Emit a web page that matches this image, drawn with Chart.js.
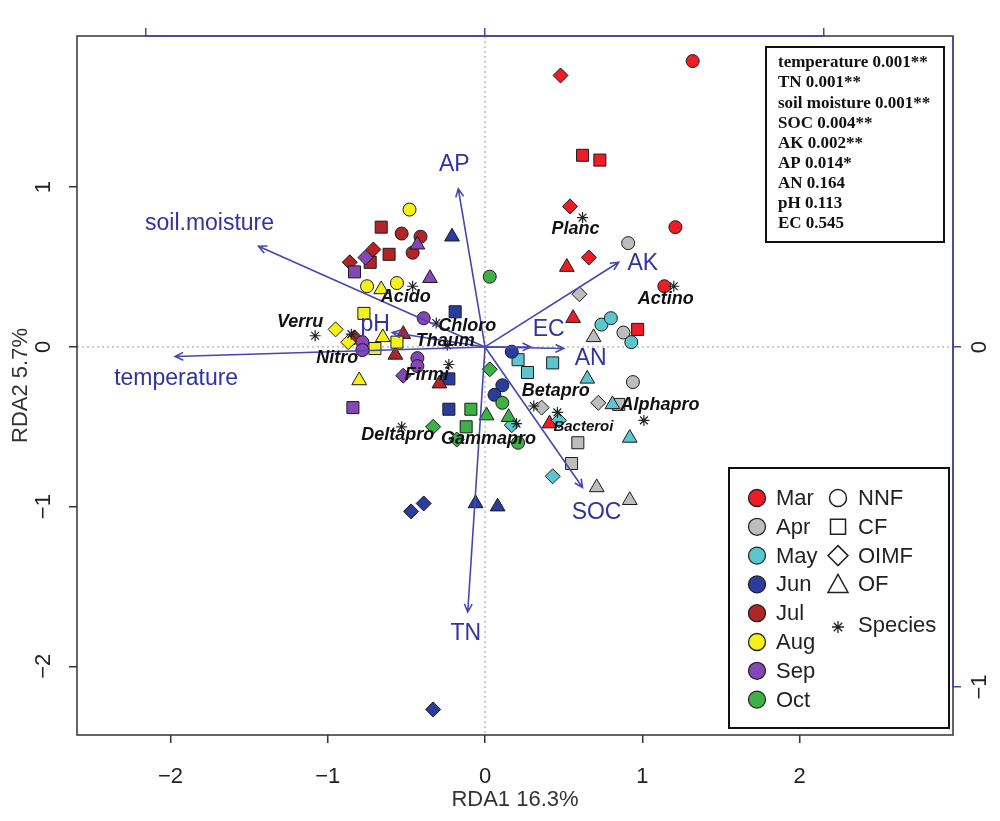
<!DOCTYPE html>
<html lang="en">
<head>
<meta charset="UTF-8">
<title>RDA biplot</title>
<script src="https://cdn.jsdelivr.net/npm/chart.js"></script>
<style>
  html, body { margin: 0; padding: 0; background: #fff; }
  canvas { display: block; }
</style>
</head>
<body>
<canvas id="rda" width="1000" height="821"></canvas>
<script>
// site scores [RDA1, RDA2, shape]  c = NNF, s = CF, d = OIMF, t = OF
const mar = [[1.32,1.79,'c'],[0.48,1.70,'d'],[0.62,1.20,'s'],[0.73,1.17,'s'],[0.54,0.88,'d'],[1.21,0.75,'c'],
             [0.66,0.56,'d'],[0.52,0.50,'t'],[1.14,0.38,'c'],[0.56,0.18,'t'],[0.97,0.11,'s'],[0.41,-0.48,'t']];
const apr = [[0.91,0.65,'c'],[0.60,0.33,'d'],[0.88,0.09,'c'],[0.69,0.06,'t'],[0.94,-0.22,'c'],[0.72,-0.35,'d'],
             [0.85,-0.36,'s'],[0.36,-0.38,'d'],[0.59,-0.60,'s'],[0.55,-0.73,'s'],[0.71,-0.88,'t'],[0.92,-0.96,'t']];
const may = [[0.74,0.14,'c'],[0.80,0.18,'c'],[0.93,0.03,'c'],[0.21,-0.08,'s'],[0.27,-0.16,'s'],[0.43,-0.10,'s'],
             [0.65,-0.20,'t'],[0.81,-0.36,'t'],[0.47,-0.46,'d'],[0.17,-0.49,'d'],[0.92,-0.57,'t'],[0.43,-0.81,'d']];
const jun = [[-0.21,0.69,'t'],[-0.19,0.22,'s'],[0.17,-0.03,'c'],[0.11,-0.24,'c'],[0.06,-0.30,'c'],[-0.23,-0.20,'s'],
             [-0.23,-0.39,'s'],[-0.47,-1.03,'d'],[-0.39,-0.98,'d'],[-0.06,-0.98,'t'],[0.08,-1.00,'t'],[-0.33,-2.27,'d']];
const jul = [[-0.66,0.75,'s'],[-0.53,0.71,'c'],[-0.41,0.69,'c'],[-0.71,0.61,'d'],[-0.61,0.58,'s'],[-0.46,0.59,'c'],
             [-0.86,0.53,'d'],[-0.73,0.53,'s'],[-0.52,0.08,'t'],[-0.57,-0.05,'t'],[-0.29,-0.23,'t'],[-0.83,0.06,'d']];
const aug = [[-0.48,0.86,'c'],[-0.75,0.38,'c'],[-0.66,0.36,'t'],[-0.56,0.40,'c'],[-0.77,0.21,'s'],[-0.95,0.11,'d'],
             [-0.65,0.06,'t'],[-0.56,0.03,'s'],[-0.70,-0.01,'s'],[-0.87,0.03,'d'],[-0.80,-0.21,'t']];
const sep = [[-0.43,0.64,'t'],[-0.76,0.56,'d'],[-0.83,0.47,'s'],[-0.35,0.43,'t'],[-0.39,0.18,'c'],[-0.78,0.03,'c'],
             [-0.78,-0.02,'c'],[-0.43,-0.07,'c'],[-0.43,-0.12,'c'],[-0.52,-0.18,'d'],[-0.84,-0.38,'s']];
const oct = [[0.03,0.44,'c'],[0.03,-0.14,'d'],[0.11,-0.35,'c'],[-0.09,-0.39,'s'],[0.01,-0.43,'t'],[0.15,-0.44,'t'],
             [-0.12,-0.50,'s'],[-0.33,-0.50,'d'],[-0.18,-0.58,'d'],[0.21,-0.60,'c']];

const months = ['Mar', 'Apr', 'May', 'Jun', 'Jul', 'Aug', 'Sep', 'Oct'];
const monthSites = [mar, apr, may, jun, jul, aug, sep, oct];
const monthColors = ['#EE1C25', '#BDBDBD', '#5CC6CF', '#2B3D9C', '#B22428', '#F5EF1A', '#8547B5', '#3DB046'];
const siteTypes = ['NNF', 'CF', 'OIMF', 'OF'];

// species scores
const species  = ['Planc', 'Actino', 'Acido', 'Verru', 'Nitro', 'Chloro', 'Thaum', 'Firmi',
                  'Deltapro', 'Gammapro', 'Betapro', 'Bacteroi', 'Alphapro'];
const speciesX = [0.62, 1.20, -0.46, -1.08, -0.85, -0.31, -0.24, -0.23, -0.53, 0.20, 0.31, 0.46, 1.01];
const speciesY = [0.81, 0.38, 0.38, 0.07, 0.08, 0.15, 0.01, -0.11, -0.50, -0.48, -0.37, -0.41, -0.46];

// environmental arrows (tips)
const envVars = ['soil.moisture', 'AP', 'temperature', 'pH', 'EC', 'AK', 'AN', 'SOC', 'TN'];
const envX = [-1.44, -0.17, -1.97, -0.59, 0.29, 0.85, 0.50, 0.62, -0.11];
const envY = [0.63, 0.99, -0.06, 0.09, 0.00, 0.53, -0.01, -0.88, -1.66];

// permutation test results
const statLines = ['temperature 0.001**', 'TN 0.001**', 'soil moisture 0.001**', 'SOC 0.004**',
                   'AK 0.002**', 'AP 0.014*', 'AN 0.164', 'pH 0.113', 'EC 0.545'];

// axis ticks
const xTicks = [-2, -1, 0, 1, 2];
const yTicks = [-2, -1, 0, 1];
const x2Ticks = [-1, 0, 1];
const y2Ticks = [-1, 0];

// ---- styling ----
const BLUE = '#4646B4';
const BLUE_TXT = '#3232A0';
const styleOf = { c: 'circle', s: 'rect', d: 'rectRot', t: 'triangle' };
const radiusOf = { c: 6.5, s: 8.5, d: 7.5, t: 8.5 };
// label offset from arrow tip, px
const envLabelOff = {
  'soil.moisture': [-49, -23], AP: [-4, -24], temperature: [1, 22], pH: [-17, -8],
  EC: [18, -17], AK: [24, 1], AN: [27, 10], SOC: [14, 25], TN: [-2, 22]
};
// label offset from species point, px
const spLabelOff = {
  Planc: [-7, 11], Actino: [-8, 13], Acido: [-7, 11], Verru: [-15, -14], Nitro: [-14, 24],
  Chloro: [31, 3], Thaum: [-2, -4], Firmi: [-22, 11], Deltapro: [-4, 8], Gammapro: [-28, 15],
  Betapro: [22, -15], Bacteroi: [26, 14], Alphapro: [16, -15]
};

const fmt = v => (v < 0 ? '\u2212' + Math.abs(v) : String(v));
const setTicks = arr => s => { s.ticks = arr.map(v => ({ value: v })); };

const datasets = [{
  label: 'Species',
  data: species.map((s, i) => ({ x: speciesX[i], y: speciesY[i] })),
  pointStyle: 'star',
  pointRadius: 5.5,
  borderColor: '#222',
  borderWidth: 1.2,
  order: 0
}];
monthSites.forEach((pts, i) => {
  datasets.push({
    label: months[i],
    data: pts.map(p => ({ x: p[0], y: p[1] })),
    pointStyle: pts.map(p => styleOf[p[2]]),
    pointRadius: pts.map(p => radiusOf[p[2]]),
    backgroundColor: monthColors[i],
    borderColor: '#1a1a1a',
    borderWidth: 1,
    order: 20 - i
  });
});

const overlay = {
  id: 'overlay',
  beforeDatasetsDraw(chart) {
    const { ctx, chartArea: a, scales: { x, y } } = chart;
    ctx.save();
    ctx.strokeStyle = '#9a9a9a';
    ctx.lineWidth = 1;
    ctx.setLineDash([2, 3]);
    ctx.beginPath();
    ctx.moveTo(x.getPixelForValue(0), a.top);
    ctx.lineTo(x.getPixelForValue(0), a.bottom);
    ctx.moveTo(a.left, y.getPixelForValue(0));
    ctx.lineTo(a.right, y.getPixelForValue(0));
    ctx.stroke();
    ctx.restore();
  },
  afterDatasetsDraw(chart) {
    const { ctx, chartArea: a, scales: { x, y, x2, y2 } } = chart;
    const x0 = x.getPixelForValue(0), y0 = y.getPixelForValue(0);
    ctx.save();

    // arrows
    ctx.strokeStyle = BLUE;
    ctx.lineWidth = 1.6;
    envVars.forEach((name, i) => {
      const px = x.getPixelForValue(envX[i]), py = y.getPixelForValue(envY[i]);
      const ang = Math.atan2(py - y0, px - x0);
      ctx.beginPath();
      ctx.moveTo(x0, y0);
      ctx.lineTo(px, py);
      ctx.moveTo(px - 9 * Math.cos(ang - 0.45), py - 9 * Math.sin(ang - 0.45));
      ctx.lineTo(px, py);
      ctx.lineTo(px - 9 * Math.cos(ang + 0.45), py - 9 * Math.sin(ang + 0.45));
      ctx.stroke();
    });

    // species labels
    ctx.fillStyle = '#111';
    ctx.textAlign = 'center';
    ctx.textBaseline = 'middle';
    species.forEach((name, i) => {
      const o = spLabelOff[name];
      ctx.font = 'italic bold ' + (name === 'Bacteroi' ? 15 : 18) + 'px "Liberation Sans", Arial, sans-serif';
      ctx.fillText(name, x.getPixelForValue(speciesX[i]) + o[0], y.getPixelForValue(speciesY[i]) + o[1]);
    });

    // env labels
    ctx.fillStyle = BLUE_TXT;
    ctx.font = '23px "Liberation Sans", Arial, sans-serif';
    envVars.forEach((name, i) => {
      const o = envLabelOff[name];
      ctx.fillText(name, x.getPixelForValue(envX[i]) + o[0], y.getPixelForValue(envY[i]) + o[1]);
    });

    // frame
    ctx.strokeStyle = '#333';
    ctx.lineWidth = 1.5;
    ctx.strokeRect(a.left, a.top, a.right - a.left, a.bottom - a.top);
    ctx.strokeStyle = BLUE;
    ctx.beginPath();
    ctx.moveTo(x2.getPixelForValue(-1), a.top);
    ctx.lineTo(x2.getPixelForValue(1), a.top);
    ctx.moveTo(a.right, a.top);
    ctx.lineTo(a.right, y2.getPixelForValue(-1));
    ctx.stroke();

    // rotated y tick labels
    ctx.fillStyle = '#222';
    ctx.font = '22px "Liberation Sans", Arial, sans-serif';
    yTicks.forEach(v => {
      ctx.save();
      ctx.translate(44, y.getPixelForValue(v));
      ctx.rotate(-Math.PI / 2);
      ctx.fillText(fmt(v), 0, 0);
      ctx.restore();
    });
    y2Ticks.forEach(v => {
      ctx.save();
      ctx.translate(980, y2.getPixelForValue(v));
      ctx.rotate(-Math.PI / 2);
      ctx.fillText(fmt(v), 0, 0);
      ctx.restore();
    });

    // stats box
    ctx.fillStyle = '#fff';
    ctx.fillRect(766, 47, 178, 195);
    ctx.strokeStyle = '#111';
    ctx.lineWidth = 2;
    ctx.strokeRect(766, 47, 178, 195);
    ctx.fillStyle = '#111';
    ctx.textAlign = 'left';
    ctx.font = 'bold 17px "Liberation Serif", "Times New Roman", serif';
    statLines.forEach((t, i) => ctx.fillText(t, 778, 63 + i * 20.1));

    // legend
    ctx.fillStyle = '#fff';
    ctx.fillRect(729, 468, 220, 260);
    ctx.strokeStyle = '#111';
    ctx.lineWidth = 2;
    ctx.strokeRect(729, 468, 220, 260);
    ctx.font = '22px "Liberation Sans", Arial, sans-serif';
    ctx.lineWidth = 1.3;
    months.forEach((m, i) => {
      const ly = 498 + i * 28.8;
      ctx.beginPath();
      ctx.arc(757, ly, 8.5, 0, Math.PI * 2);
      ctx.fillStyle = monthColors[i];
      ctx.fill();
      ctx.strokeStyle = '#222';
      ctx.stroke();
      ctx.fillStyle = '#222';
      ctx.fillText(m, 776, ly + 1);
    });
    ctx.strokeStyle = '#222';
    ctx.lineWidth = 1.5;
    siteTypes.forEach((t, i) => {
      const ly = 498 + i * 28.8, lx = 838;
      ctx.beginPath();
      if (i === 0) ctx.arc(lx, ly, 8.5, 0, Math.PI * 2);
      if (i === 1) ctx.rect(lx - 7.5, ly - 7.5, 15, 15);
      if (i === 2) { ctx.moveTo(lx, ly - 10); ctx.lineTo(lx + 10, ly); ctx.lineTo(lx, ly + 10); ctx.lineTo(lx - 10, ly); ctx.closePath(); }
      if (i === 3) { ctx.moveTo(lx, ly - 10); ctx.lineTo(lx + 10, ly + 8); ctx.lineTo(lx - 10, ly + 8); ctx.closePath(); }
      ctx.stroke();
      ctx.fillText(t, 858, ly + 1);
    });
    ctx.lineWidth = 1.3;
    ctx.beginPath();
    for (let k = 0; k < 4; k++) {
      const ang = k * Math.PI / 4;
      ctx.moveTo(838 - 6 * Math.cos(ang), 627 - 6 * Math.sin(ang));
      ctx.lineTo(838 + 6 * Math.cos(ang), 627 + 6 * Math.sin(ang));
    }
    ctx.stroke();
    ctx.fillText('Species', 858, 626);

    ctx.restore();
  }
};

const tickFont = { family: '"Liberation Sans", Arial, sans-serif', size: 22 };

new Chart(document.getElementById('rda').getContext('2d'), {
  type: 'scatter',
  data: { datasets },
  options: {
    responsive: false,
    devicePixelRatio: 1,
    animation: false,
    layout: { padding: 0 },
    plugins: { legend: { display: false }, tooltip: { enabled: false } },
    scales: {
      x: {
        position: 'bottom', min: -2.594, max: 2.975,
        afterBuildTicks: setTicks(xTicks),
        afterFit: s => { s.height = 86; },
        border: { display: false },
        grid: { drawOnChartArea: false, drawTicks: true, tickLength: 8, color: '#333', lineWidth: 1.5 },
        ticks: { color: '#222', font: tickFont, padding: 21, callback: v => fmt(v), maxRotation: 0 },
        title: { display: true, text: 'RDA1 16.3%', color: '#333', font: tickFont, padding: { top: 0, bottom: 8 } }
      },
      y: {
        position: 'left', min: -2.43, max: 1.947,
        afterBuildTicks: setTicks(yTicks),
        afterFit: s => { s.width = 77; },
        border: { display: false },
        grid: { drawOnChartArea: false, drawTicks: true, tickLength: 8, color: '#333', lineWidth: 1.5 },
        ticks: { display: false },
        title: { display: true, text: 'RDA2 5.7%', color: '#333', font: tickFont, padding: { top: 8, bottom: 0 } }
      },
      x2: {
        type: 'linear', position: 'top', min: -1.2035, max: 1.3805,
        afterBuildTicks: setTicks(x2Ticks),
        afterFit: s => { s.height = 36; },
        border: { display: false },
        grid: { drawOnChartArea: false, drawTicks: true, tickLength: 8, color: BLUE, lineWidth: 1.5 },
        ticks: { display: false }
      },
      y2: {
        type: 'linear', position: 'right', min: -1.141, max: 0.915,
        afterBuildTicks: setTicks(y2Ticks),
        afterFit: s => { s.width = 47; },
        border: { display: false },
        grid: { drawOnChartArea: false, drawTicks: true, tickLength: 8, color: BLUE, lineWidth: 1.5 },
        ticks: { display: false }
      }
    }
  },
  plugins: [overlay]
});
</script>
</body>
</html>
